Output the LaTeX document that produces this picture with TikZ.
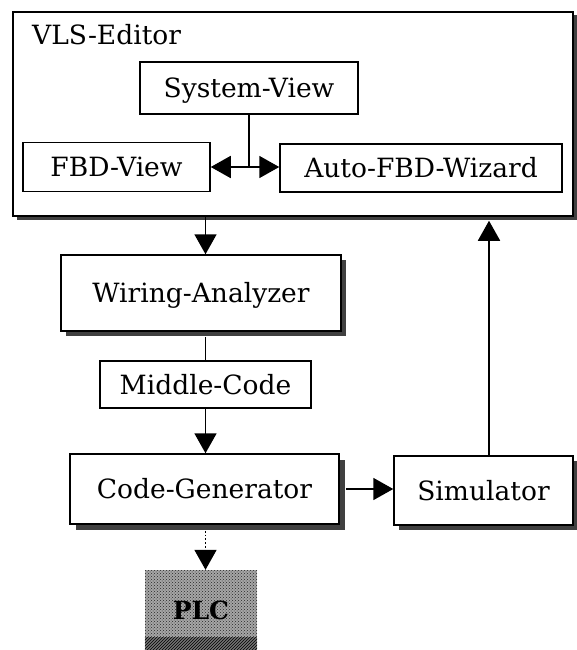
\documentclass[tikz,border=0pt]{standalone}
\usepackage{fontspec}
\setmainfont{DejaVu Serif}
\usetikzlibrary{arrows.meta,shadows,patterns,calc}
\begin{document}
\begin{tikzpicture}[x=1pt,y=-1pt,
  lbl/.style={font=\fontsize{26.5}{26.5}\selectfont},
  box/.style={lbl, draw=black, line width=1.5pt, fill=white, inner sep=0pt,
    text height=19pt, text depth=0pt},
  shad/.style={drop shadow={shadow xshift=#1, shadow yshift=-#1, fill=black!75, opacity=1}},
  conn/.style={line width=1.8pt},
  arr/.style={conn, -{Triangle[length=20pt,width=22pt]}},
  plcbox/.style={preaction={fill=black!35}, pattern=crosshatch dots, pattern color=black!85,
    inner sep=0pt, font=\fontsize{25}{25}\selectfont\bfseries, text height=18pt, text depth=0pt},
]
\useasboundingbox (0,0) rectangle (576,650);
% VLS-Editor frame
\node[box, shad=3.5pt, minimum width=560pt, minimum height=204pt] (ed) at (293,114) {};
\node[lbl, anchor=base west, inner sep=0pt] (edt) at (32,45) {VLS-Editor};
\node[box, minimum width=218pt, minimum height=52pt] (sv) at (249,88) {System-View};
\node[box, minimum width=187pt, minimum height=49pt] (fbd) at (116.5,167) {FBD-View};
\node[box, minimum width=282pt, minimum height=48pt] (af) at (421,168) {Auto-FBD-Wizard};
\draw[conn] (sv.south) -- (sv.south |- fbd.east) coordinate (j);
\draw[arr] (j) -- (fbd.east);
\draw[arr] (j) -- (af.west |- j);
% chain
\node[box, shad=5pt, minimum width=280pt, minimum height=76pt] (wa) at (201,293) {Wiring-Analyzer};
\node[box, minimum width=211pt, minimum height=47pt] (mc) at (205.5,384.5) {Middle-Code};
\node[box, shad=6pt, minimum width=269pt, minimum height=70pt] (cg) at (204.5,489) {Code-Generator};
\node[box, shad=5pt, minimum width=179pt, minimum height=69pt] (sim) at (483.5,490.5) {Simulator};
\node[plcbox, minimum width=112pt, minimum height=80pt] (plc) at (201,610) {PLC};
\fill[pattern=north east lines, pattern color=black, preaction={fill=black!55}]
  ($(plc.south west)+(0,-13)$) rectangle (plc.south east);
\draw[arr] (mc.north |- ed.south) -- (mc.north |- wa.north);
\draw[conn] ($(mc.north |- wa.south)+(0,5)$) -- (mc.north);
\draw[arr] (mc.south) -- (mc.south |- cg.north);
\draw[arr] ($(cg.east)+(6,0)$) -- (sim.west |- cg.east);
\coordinate (su) at ($(sim.north)+(5.5,0)$);
\draw[arr] (su) -- ($(su |- ed.south)+(0,4)$);
\draw[arr, dotted] ($(mc.south |- cg.south)+(0,6)$) -- (mc.south |- plc.north);
\end{tikzpicture}
\end{document}
